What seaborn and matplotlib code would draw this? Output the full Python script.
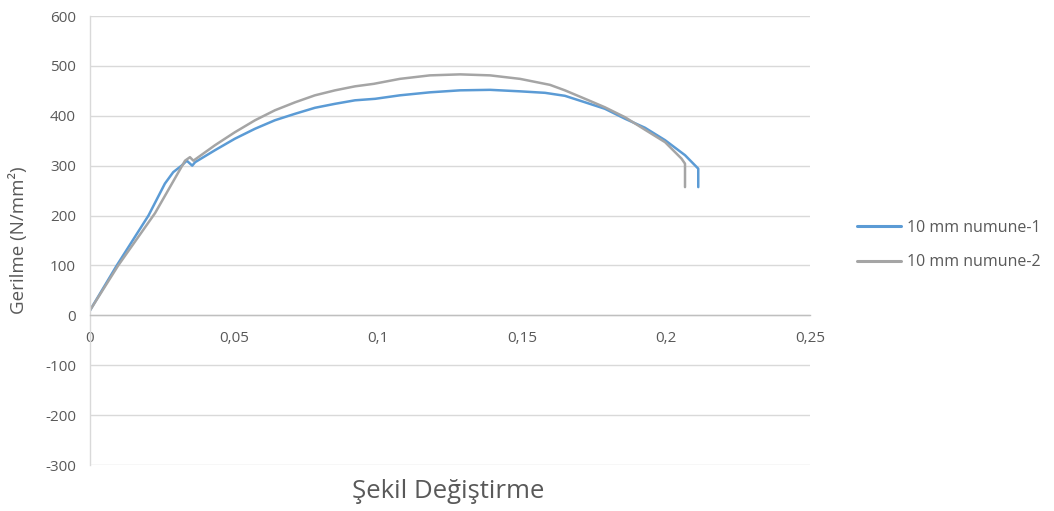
import matplotlib
matplotlib.use("Agg")
import matplotlib.pyplot as plt
import seaborn as sns
import pandas as pd

# ---- data ----
x_numune1 = [0, 0.0093, 0.0203, 0.026, 0.0289, 0.0318, 0.0336, 0.0355, 0.0365, 0.0434,
             0.0503, 0.0573, 0.0642, 0.0712, 0.0781, 0.0851, 0.092, 0.099, 0.1076, 0.118,
             0.1285, 0.1389, 0.1493, 0.158, 0.1649, 0.1719, 0.1788, 0.1858, 0.1927, 0.1997,
             0.2066, 0.2112, 0.2112]
y_numune1 = [10, 100, 200, 264, 287, 300, 310, 300, 307, 331,
             354, 374, 391, 404, 416, 424, 431, 434, 441, 447,
             451, 452, 449, 446, 440, 427, 414, 394, 376, 351,
             321, 294, 257]

x_numune2 = [0, 0.0098, 0.0226, 0.033, 0.0347, 0.0359, 0.0434, 0.0503, 0.0573, 0.0642,
             0.0712, 0.0781, 0.0851, 0.092, 0.0985, 0.1076, 0.118, 0.1285, 0.1389, 0.1493,
             0.1597, 0.1649, 0.1719, 0.1788, 0.1858, 0.1927, 0.1997, 0.2054, 0.2066, 0.2066]
y_numune2 = [10, 100, 205, 310, 317, 310, 341, 367, 391, 411,
             427, 441, 451, 459, 464, 474, 481, 483, 481, 474,
             462, 451, 434, 417, 397, 372, 347, 314, 304, 257]

series_names = ["10 mm numune-1", "10 mm numune-2"]
x_ticks = [0, 0.05, 0.1, 0.15, 0.2, 0.25]
x_tick_labels = ["0", "0,05", "0,1", "0,15", "0,2", "0,25"]
y_ticks = [-300, -200, -100, 0, 100, 200, 300, 400, 500, 600]

df = pd.concat([
    pd.DataFrame({"x": x_numune1, "y": y_numune1, "seri": series_names[0]}),
    pd.DataFrame({"x": x_numune2, "y": y_numune2, "seri": series_names[1]}),
], ignore_index=True)

sns.set_theme(style="white")
plt.rcParams["font.family"] = ["Open Sans", "DejaVu Sans"]

fig = plt.figure(figsize=(10.54, 5.11), dpi=100)
ax = fig.add_axes([90/1054, 1-465/511, 720/1054, 449/511])

palette = {series_names[0]: "#5B9BD5", series_names[1]: "#A5A5A5"}
sns.lineplot(data=df, x="x", y="y", hue="seri", palette=palette, sort=False,
             estimator=None, linewidth=1.8, ax=ax)
for ln in ax.get_lines():
    ln.set_solid_joinstyle("round")
    ln.set_solid_capstyle("round")

ax.set_xlim(0, 0.25)
ax.set_ylim(-300, 600)
ax.set_xticks(x_ticks)
ax.set_xticklabels(x_tick_labels)
ax.set_yticks(y_ticks)
ax.set_yticklabels([str(v) for v in y_ticks])

ax.grid(axis="y", color="#D9D9D9", linewidth=1)
ax.grid(axis="x", visible=False)
ax.set_axisbelow(True)
for s in ["top", "right"]:
    ax.spines[s].set_visible(False)
ax.spines["left"].set_color("#D9D9D9")
ax.spines["left"].set_linewidth(1)
ax.spines["bottom"].set_position(("data", 0))
ax.spines["bottom"].set_color("#BFBFBF")
ax.spines["bottom"].set_linewidth(1)

ax.tick_params(axis="both", length=0, labelsize=11, labelcolor="#595959")
ax.tick_params(axis="y", pad=10)
ax.tick_params(axis="x", pad=11)

ax.set_xlabel("")
ax.set_ylabel("Gerilme (N/mm²)", fontsize=13.5, color="#595959")
ax.yaxis.set_label_coords(-0.086, 0.5)

fig.text(448/1054, 1-491/511, "Şekil Değiştirme", ha="center", va="center",
         fontsize=18.5, color="#595959")

leg = ax.legend(loc="center left", bbox_to_anchor=(843/1054, 1-245/511),
                bbox_transform=fig.transFigure, frameon=False, fontsize=11.5,
                handlelength=2.7, handletextpad=0.4, labelspacing=1.15)
for t in leg.get_texts():
    t.set_color("#595959")
for l in leg.get_lines():
    l.set_linewidth(2.2)

fig.savefig("out.png", dpi=100)
